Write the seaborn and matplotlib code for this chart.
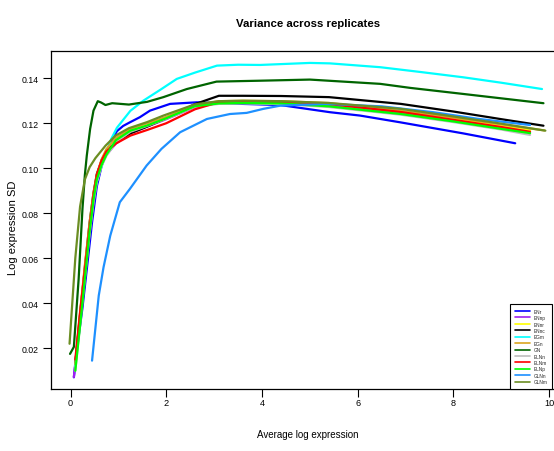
import matplotlib
matplotlib.use("Agg")
import matplotlib.pyplot as plt
import numpy as np
import pandas as pd
import seaborn as sns

# ---- series (average log expression -> log expression SD) ----
series_names = ["ENr", "ENnp", "ENnr", "ENnc", "EGm", "EGn", "GN",
                "ELNn", "ELNm", "ELNp", "GLNn", "GLNm"]
series_colors = ["#0000FF", "#A020F0", "#FFFF00", "#000000", "#00FFFF", "#DAA520",
                 "#006400", "#BEBEBE", "#FF0000", "#00FF00", "#1E90FF", "#6B8E23"]

x_ENr = [0.07, 0.15, 0.25, 0.35, 0.45, 0.55, 0.65, 0.75, 0.85, 0.97, 1.1, 1.24,
         1.45, 1.66, 2.08, 2.64, 3.26, 4.38, 5.42, 6.05, 6.89, 8.2, 9.29]
ENr = [0.0071, 0.022, 0.038, 0.057, 0.076, 0.092, 0.101, 0.107, 0.112, 0.1165, 0.1188,
       0.1204, 0.1227, 0.1256, 0.1286, 0.1293, 0.1288, 0.1281, 0.1249, 0.1234, 0.1204,
       0.1155, 0.1111]

x_ENnp = [0.07, 0.15, 0.25, 0.35, 0.45, 0.55, 0.65, 0.75, 0.95, 1.25, 1.6, 2.0,
          2.6, 3.1, 3.6, 4.4, 5.4, 6.9, 8.0, 9.0, 9.6]
ENnp = [0.0072, 0.024, 0.042, 0.062, 0.080, 0.094, 0.1015, 0.106, 0.1110, 0.1155, 0.1185,
        0.1218, 0.1272, 0.1292, 0.1295, 0.1292, 0.1282, 0.1248, 0.1215, 0.1182, 0.1160]

x_cluster = [0.1, 0.2, 0.3, 0.4, 0.48, 0.55, 0.65, 0.75, 0.95, 1.25, 1.6, 2.0,
             2.6, 3.1, 3.6, 4.4, 5.4, 6.9, 8.0, 9.0, 9.6]
ENnr = [0.012, 0.034, 0.054, 0.073, 0.087, 0.096, 0.1025, 0.107, 0.1115, 0.1158, 0.1188,
        0.1222, 0.1278, 0.1296, 0.1298, 0.1296, 0.1286, 0.1252, 0.1220, 0.1188, 0.1168]
ELNn = [0.010, 0.031, 0.051, 0.071, 0.085, 0.094, 0.1010, 0.1055, 0.1115, 0.1162, 0.1188,
        0.1220, 0.1273, 0.1286, 0.1288, 0.1285, 0.1272, 0.1238, 0.1205, 0.1172, 0.1148]
ELNm = [0.015, 0.036, 0.055, 0.074, 0.088, 0.097, 0.1035, 0.1075, 0.1110, 0.1145, 0.1170,
        0.1200, 0.1262, 0.1294, 0.1298, 0.1294, 0.1285, 0.1250, 0.1215, 0.1183, 0.1162]
ELNp = [0.010, 0.030, 0.051, 0.072, 0.086, 0.095, 0.1015, 0.1060, 0.1125, 0.1167, 0.1190,
        0.1222, 0.1276, 0.1288, 0.1290, 0.1288, 0.1275, 0.1241, 0.1208, 0.1175, 0.1156]

x_ENnc = [0.1, 0.2, 0.3, 0.4, 0.48, 0.55, 0.65, 0.75, 0.95, 1.25, 1.6, 2.0,
          2.6, 3.1, 3.6, 4.4, 5.4, 6.9, 8.0, 9.0, 9.88]
ENnc = [0.013, 0.035, 0.056, 0.076, 0.089, 0.0975, 0.1035, 0.1075, 0.1115, 0.1155, 0.1185,
        0.1222, 0.1285, 0.1322, 0.1322, 0.1321, 0.1316, 0.1286, 0.1252, 0.1218, 0.1189]

x_EGn = [0.1, 0.2, 0.3, 0.4, 0.48, 0.55, 0.65, 0.75, 0.95, 1.25, 1.6, 2.0,
         2.6, 3.1, 3.6, 4.4, 5.4, 6.9, 8.0, 9.0, 9.9]
EGn = [0.013, 0.036, 0.057, 0.076, 0.089, 0.097, 0.1040, 0.1085, 0.1135, 0.1175, 0.1200,
       0.1228, 0.1280, 0.1298, 0.1300, 0.1298, 0.1290, 0.1255, 0.1225, 0.1195, 0.1168]

x_EGm = [0.1, 0.2, 0.3, 0.4, 0.5, 0.6, 0.73, 0.85, 0.97, 1.1, 1.25, 1.52, 1.9,
         2.22, 2.6, 3.06, 3.5, 3.96, 5.0, 5.42, 6.47, 7.3, 8.21, 9.0, 9.85]
EGm = [0.012, 0.034, 0.055, 0.074, 0.090, 0.098, 0.1056, 0.1130, 0.1180, 0.1215, 0.1255,
       0.1300, 0.1352, 0.1397, 0.1425, 0.1456, 0.1460, 0.1459, 0.1468, 0.1466, 0.1449,
       0.1428, 0.1404, 0.1380, 0.1352]

x_GN = [-0.01, 0.07, 0.17, 0.25, 0.30, 0.34, 0.41, 0.48, 0.57, 0.64, 0.73, 0.87,
        1.22, 1.6, 1.94, 2.43, 3.05, 3.96, 5.0, 6.47, 7.1, 8.21, 9.88]
GN = [0.0175, 0.0206, 0.0508, 0.082, 0.097, 0.1056, 0.1175, 0.1256, 0.1298, 0.1292,
      0.1281, 0.1289, 0.1283, 0.1295, 0.1316, 0.1352, 0.1385, 0.1389, 0.1394, 0.1375,
      0.1357, 0.1330, 0.1289]

x_GLNn = [0.45, 0.59, 0.69, 0.83, 1.03, 1.24, 1.59, 1.9, 2.29, 2.85, 3.33, 3.68,
          4.03, 4.38, 5.35, 6.5, 7.58, 8.5, 9.6]
GLNn = [0.0145, 0.0434, 0.056, 0.070, 0.0849, 0.0908, 0.1012, 0.1086, 0.1160, 0.1219,
        0.1241, 0.1246, 0.1264, 0.1278, 0.1286, 0.1275, 0.1249, 0.1220, 0.1192]

x_GLNm = [-0.02, 0.1, 0.2, 0.3, 0.4, 0.52, 0.73, 0.94, 1.22, 1.6, 1.94, 2.6, 3.1,
          3.6, 4.4, 5.4, 6.9, 8.0, 9.0, 9.92]
GLNm = [0.022, 0.060, 0.083, 0.095, 0.1005, 0.1045, 0.1100, 0.1145, 0.1178, 0.1205,
        0.1234, 0.1284, 0.1298, 0.1300, 0.1298, 0.1290, 0.1264, 0.1230, 0.1198, 0.1167]

series_data = [(x_ENr, ENr), (x_ENnp, ENnp), (x_cluster, ENnr), (x_ENnc, ENnc),
               (x_EGm, EGm), (x_EGn, EGn), (x_GN, GN), (x_cluster, ELNn),
               (x_cluster, ELNm), (x_cluster, ELNp), (x_GLNn, GLNn), (x_GLNm, GLNm)]

x_ticks = [0, 2, 4, 6, 8, 10]
y_ticks = [0.02, 0.04, 0.06, 0.08, 0.10, 0.12, 0.14]

frames = []
for name, (xs, ys) in zip(series_names, series_data):
    frames.append(pd.DataFrame({"series": name, "x": xs, "y": ys,
                                "step": np.arange(len(xs))}))
df = pd.concat(frames, ignore_index=True)

sns.set_theme(style="white")
plt.rcParams["font.family"] = ["Liberation Sans", "DejaVu Sans"]
plt.rcParams["axes.edgecolor"] = "black"
plt.rcParams["axes.linewidth"] = 0.9

fig = plt.figure(figsize=(5.54, 4.52), dpi=100)
ax = fig.add_axes([51 / 554, 1 - 390 / 452, 514 / 554, 338 / 452])

sns.lineplot(data=df, x="x", y="y", hue="series", hue_order=series_names,
             palette=series_colors, units="series", estimator=None, sort=False,
             linewidth=1.6, legend=False, ax=ax)

ax.set_xlim(-0.4075, 10.33)
ax.set_ylim(0.0019, 0.1521)
ax.set_xticks(x_ticks)
ax.set_xticklabels([str(t) for t in x_ticks])
ax.set_yticks(y_ticks)
ax.set_yticklabels([f"{t:.2f}" for t in y_ticks])
ax.tick_params(axis="x", direction="out", length=5.8, width=0.8, color="black",
               pad=1.0, labelsize=6.6, labelcolor="black", bottom=True)
ax.tick_params(axis="y", direction="out", length=5.6, width=0.8, color="black",
               pad=3.2, labelsize=6.3, labelcolor="black", left=True)
for s in ax.spines.values():
    s.set_visible(True)
    s.set_color("black")

ax.set_title("Variance across replicates", fontsize=8.2, fontweight="bold",
             pad=18.0, color="black")
ax.set_xlabel("Average log expression", fontsize=7.0, color="black")
ax.xaxis.set_label_coords(0.5, -0.119)
ax.set_ylabel("Log expression SD", fontsize=8, color="black")
ax.yaxis.set_label_coords(-0.065, 0.479)

handles = ax.get_lines()[:len(series_names)]
leg = ax.legend(handles, series_names, loc="lower left",
                bbox_to_anchor=(0.893, 0.0), fontsize=3.4, frameon=True,
                fancybox=False, edgecolor="black", framealpha=1,
                handlelength=3.3, handletextpad=0.7, labelspacing=0.3,
                borderpad=1.0, borderaxespad=0.0)
leg.get_frame().set_linewidth(0.8)
for line in leg.get_lines():
    line.set_linewidth(1.2)

fig.savefig("out.png", dpi=100)
